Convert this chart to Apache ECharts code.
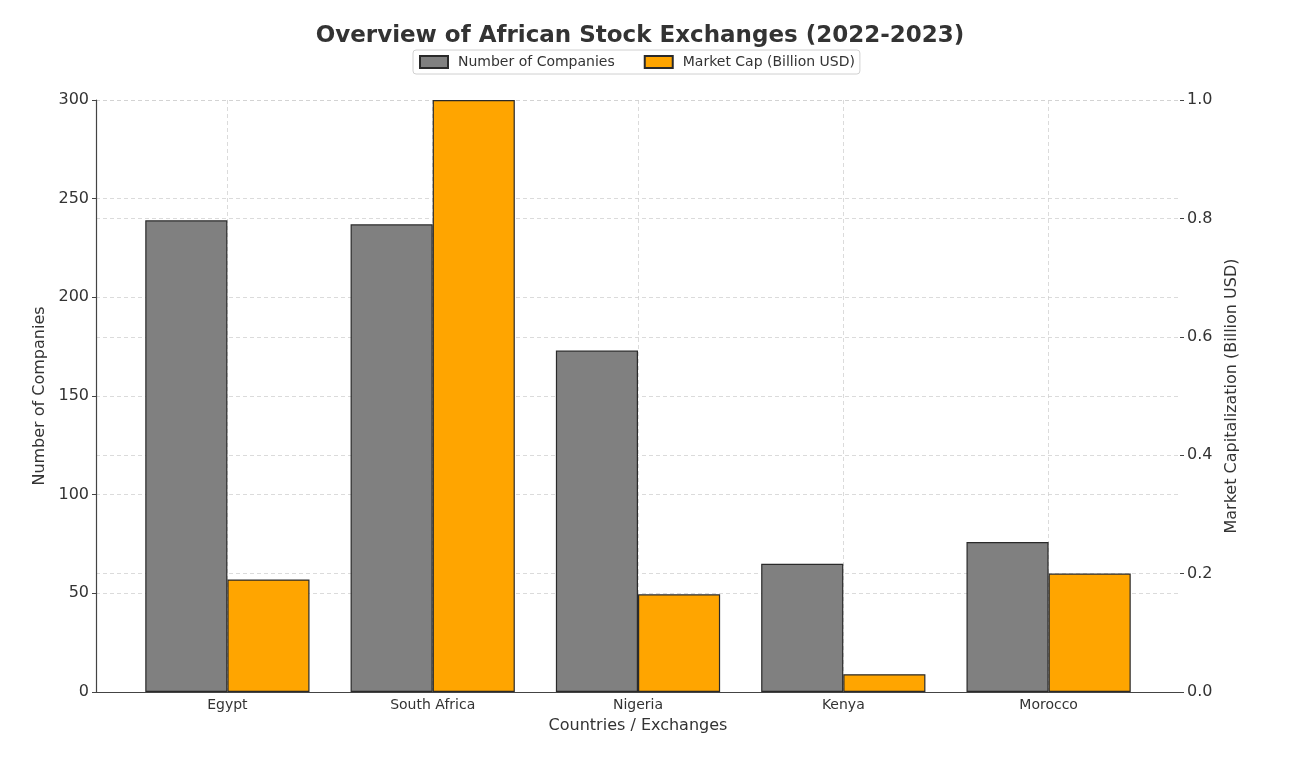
<!DOCTYPE html>
<html>
<head>
<meta charset="utf-8">
<script src="https://cdn.jsdelivr.net/npm/echarts@6/dist/echarts.min.js"></script>
<style>html,body{margin:0;padding:0;background:#fff}#c{width:1292px;height:758px}</style>
</head>
<body>
<div id="c"></div>
<script>
const categories = ['Egypt', 'South Africa', 'Nigeria', 'Kenya', 'Morocco'];
const numCompanies = [239, 237, 173, 65, 76];
const marketCap = [0.19, 1.0, 0.165, 0.03, 0.2];
const leftTicks = [0, 50, 100, 150, 200, 250, 300];
const rightTicks = [0, 0.2, 0.4, 0.6, 0.8, 1.0];

const FONT = 'DejaVu Sans';
const TXT = '#333';
const chart = echarts.init(document.getElementById('c'), null, {renderer: 'canvas'});
const grid = '#d2d2d2';

chart.setOption({
  animation: false,
  textStyle: {fontFamily: FONT},
  title: {
    text: 'Overview of African Stock Exchanges (2022-2023)',
    left: 635, textAlign: 'center', top: 20,
    textStyle: {fontFamily: FONT, fontSize: 23, fontWeight: 'bold', color: TXT}
  },
  legend: {
    top: 50, left: 413,
    icon: 'rect',
    itemWidth: 28, itemHeight: 12, itemGap: 29,
    padding: [5, 5, 5, 6],
    borderColor: '#d0d0d0', borderWidth: 1, borderRadius: 3,
    textStyle: {fontFamily: FONT, fontSize: 14, color: TXT, padding: [0, 0, 0, 5]},
    data: ['Number of Companies', 'Market Cap (Billion USD)']
  },
  grid: {left: 96, right: 112, top: 100, bottom: 66},
  xAxis: {
    type: 'value', min: -0.64, max: 4.64,
    name: 'Countries / Exchanges', nameLocation: 'middle', nameGap: 26,
    nameTextStyle: {fontFamily: FONT, fontSize: 16, color: TXT},
    axisLine: {show: true, onZero: false, lineStyle: {color: '#444', width: 1.2}},
    axisTick: {show: false},
    splitLine: {show: false},
    axisLabel: {
      margin: 6, fontFamily: FONT, fontSize: 14, color: TXT,
      formatter: v => (Number.isInteger(v) && categories[v] !== undefined) ? categories[v] : ''
    }
  },
  yAxis: [{
    type: 'value', min: leftTicks[0], max: leftTicks[leftTicks.length - 1], interval: 50,
    name: 'Number of Companies', nameLocation: 'middle', nameGap: 46, nameRotate: 90,
    nameTextStyle: {fontFamily: FONT, fontSize: 16, color: TXT},
    axisLine: {show: true, onZero: false, lineStyle: {color: '#444', width: 1.2}},
    axisTick: {show: true, length: 4, lineStyle: {color: '#444'}},
    axisLabel: {margin: 7, fontFamily: FONT, fontSize: 16, color: TXT},
    splitLine: {show: true, lineStyle: {color: grid, type: [4, 3], width: 0.8}}
  }, {
    type: 'value', min: rightTicks[0], max: rightTicks[rightTicks.length - 1], interval: 0.2,
    position: 'right',
    name: 'Market Capitalization (Billion USD)', nameLocation: 'middle', nameGap: 35, nameRotate: 90,
    nameTextStyle: {fontFamily: FONT, fontSize: 16, color: TXT},
    axisLine: {show: false, onZero: false},
    axisTick: {show: true, length: 4, lineStyle: {color: '#444'}},
    axisLabel: {margin: 7, fontFamily: FONT, fontSize: 16, color: TXT, formatter: v => v.toFixed(1)},
    splitLine: {show: true, lineStyle: {color: grid, type: [4, 3], width: 0.8}}
  }],
  series: [{
    name: 'Number of Companies', type: 'bar', yAxisIndex: 0, z: 2,
    barGap: '0%', barCategoryGap: '20%',
    itemStyle: {color: '#808080', borderColor: '#2a2a2a', borderWidth: 1.2},
    data: numCompanies.map((v, i) => [i, v])
  }, {
    name: 'Market Cap (Billion USD)', type: 'bar', yAxisIndex: 1, z: 2,
    barGap: '0%', barCategoryGap: '20%',
    itemStyle: {color: '#FFA500', borderColor: '#2a2a2a', borderWidth: 1.2},
    data: marketCap.map((v, i) => [i, v])
  }, {
    name: 'gridX', type: 'line', yAxisIndex: 0, z: 1, data: [],
    markLine: {
      silent: true, symbol: 'none', z: 1, label: {show: false},
      lineStyle: {color: grid, type: [4, 3], width: 0.8},
      data: categories.map((c, i) => ({xAxis: i}))
    }
  }]
});
</script>
</body>
</html>
